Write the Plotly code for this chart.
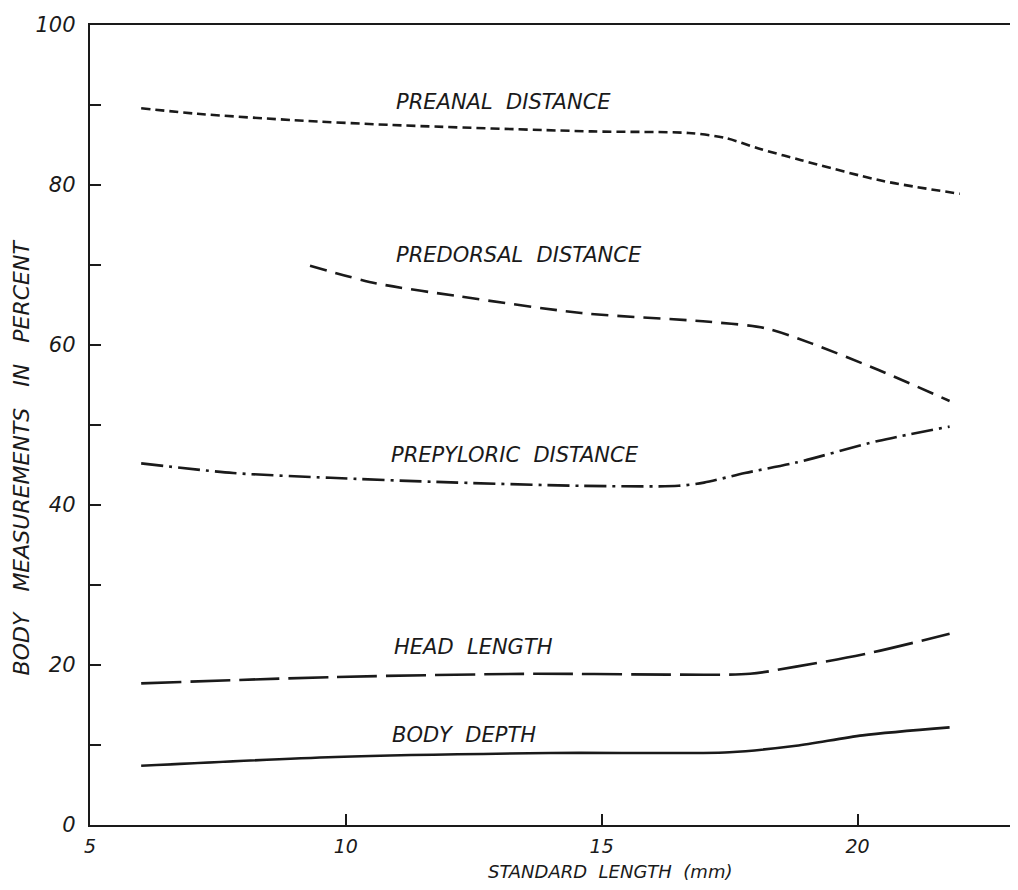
import plotly.graph_objects as go

# ---- data (standard length in mm, percent) ----
preanal_x = [6.0, 7.1, 9.0, 10.9, 14.8, 16.7, 17.4, 18.1, 18.9, 20.5, 22.0]
preanal_y = [89.6, 88.9, 88.1, 87.5, 86.7, 86.5, 85.9, 84.5, 83.1, 80.5, 78.9]

predorsal_x = [9.3, 10.6, 12.2, 14.6, 17.1, 18.2, 19.1, 20.4, 21.8]
predorsal_y = [69.9, 67.7, 66.1, 64.0, 62.9, 62.1, 60.2, 56.9, 53.0]

prepyloric_x = [6.0, 7.8, 9.7, 11.7, 14.6, 16.5, 17.0, 17.8, 18.8, 20.4, 21.8]
prepyloric_y = [45.2, 44.0, 43.4, 42.9, 42.4, 42.4, 42.8, 44.0, 45.3, 48.0, 49.8]

head_x = [6.0, 9.8, 13.7, 16.3, 17.9, 18.8, 20.1, 21.8]
head_y = [17.7, 18.5, 18.9, 18.8, 18.9, 19.8, 21.3, 23.9]

body_x = [6.0, 9.8, 14.0, 17.5, 18.8, 20.1, 21.8]
body_y = [7.4, 8.5, 9.0, 9.1, 9.9, 11.2, 12.2]

series_names = ["PREANAL DISTANCE", "PREDORSAL DISTANCE", "PREPYLORIC DISTANCE",
                "HEAD LENGTH", "BODY DEPTH"]
# label anchor positions (data coords, left edge)
label_x = [10.95, 10.95, 10.85, 10.9, 10.87]
label_y = [90.4, 71.2, 46.2, 22.2, 11.3]

x_tickvals = [5, 10, 15, 20]
y_tickvals = [0, 10, 20, 30, 40, 50, 60, 70, 80, 90, 100]
y_ticktext = ["0", "", "20", "", "40", "", "60", "", "80", "", "100"]

FONT = "DejaVu Sans"
INK = "#1a1a1a"
SP = "\u00a0\u00a0"  # wide word gap like the hand lettering

series = [
    (preanal_x, preanal_y, "9px,5px"),
    (predorsal_x, predorsal_y, "17px,9px"),
    (prepyloric_x, prepyloric_y, "22px,6px,3px,6px"),
    (head_x, head_y, "40px,9px"),
    (body_x, body_y, "solid"),
]

fig = go.Figure()
for (xs, ys, dash), name in zip(series, series_names):
    fig.add_trace(go.Scatter(
        x=xs, y=ys, mode="lines", name=name,
        line=dict(color=INK, width=2.6, dash=dash, shape="spline", smoothing=0.8),
        showlegend=False, hoverinfo="skip",
    ))

for name, lx, ly in zip(series_names, label_x, label_y):
    fig.add_annotation(
        x=lx, y=ly, xref="x", yref="y", text=name.replace(" ", SP), showarrow=False,
        xanchor="left", yanchor="middle",
        font=dict(family=FONT, size=21, color=INK, style="italic"),
    )

fig.add_annotation(
    x=0.565, y=-0.058, xref="paper", yref="paper",
    text="STANDARD" + SP + "LENGTH" + SP + "(mm)",
    showarrow=False, xanchor="center", yanchor="middle",
    font=dict(family=FONT, size=18, color=INK, style="italic"),
)
fig.add_annotation(
    x=-0.0745, y=0.46, xref="paper", yref="paper",
    text=("\u00a0" * 3).join(["BODY", "MEASUREMENTS", "IN", "PERCENT"]),
    showarrow=False, xanchor="center", yanchor="middle", textangle=-90,
    font=dict(family=FONT, size=22, color=INK, style="italic"),
)

fig.update_layout(
    width=1010, height=874,
    margin=dict(l=82, r=5, t=14, b=57),
    paper_bgcolor="white", plot_bgcolor="white",
    font=dict(family=FONT, color=INK),
)
fig.update_xaxes(
    range=[5, 23], tickmode="array", tickvals=x_tickvals,
    ticktext=[str(v) for v in x_tickvals],
    ticks="inside", ticklen=11, tickwidth=1.6, tickcolor=INK,
    showline=True, linecolor=INK, linewidth=2.4, mirror=True,
    showgrid=False, zeroline=False,
    tickfont=dict(family=FONT, size=19, color=INK, style="italic"),
    ticklabelstandoff=3,
)
fig.update_yaxes(
    range=[0, 100], tickmode="array", tickvals=y_tickvals, ticktext=y_ticktext,
    ticks="inside", ticklen=11, tickwidth=1.6, tickcolor=INK,
    showline=True, linecolor=INK, linewidth=2.4, mirror=True,
    showgrid=False, zeroline=False,
    tickfont=dict(family=FONT, size=21, color=INK, style="italic"),
    ticklabelstandoff=8,
)

fig.write_html("out.html")
